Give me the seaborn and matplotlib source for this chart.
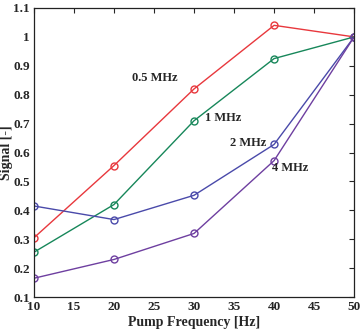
import numpy as np
import pandas as pd
import matplotlib
matplotlib.use("Agg")
import matplotlib.pyplot as plt
import seaborn as sns

freq = [10, 20, 30, 40, 50]
sig_05 = [0.305, 0.555, 0.82, 1.04, 1.0]
sig_1 = [0.255, 0.42, 0.71, 0.925, 1.0]
sig_2 = [0.415, 0.368, 0.452, 0.628, 1.0]
sig_4 = [0.165, 0.23, 0.32, 0.572, 1.0]
series = ["0.5 MHz", "1 MHz", "2 MHz", "4 MHz"]

df = pd.DataFrame({
    "freq": freq * 4,
    "signal": sig_05 + sig_1 + sig_2 + sig_4,
    "series": np.repeat(series, len(freq)),
})

sns.set_style("white")
plt.rcParams["font.family"] = ["Liberation Serif", "DejaVu Serif"]
plt.rcParams["font.weight"] = "bold"

colors = ["#e8383d", "#17875a", "#4a4aaa", "#6e3fa0"]

fig, ax = plt.subplots(figsize=(3.61, 3.33), dpi=100)
sns.lineplot(data=df, x="freq", y="signal", hue="series", palette=colors,
             marker="o", markersize=5, markerfacecolor="none",
             linewidth=1.0, legend=False, ax=ax)
# marker edges match line colour
for line, c in zip(ax.get_lines(), colors):
    line.set_markeredgecolor(c)
    line.set_markeredgewidth(1.0)

# series labels
lab_pos = [(25.1, 0.858), (33.6, 0.72), (36.75, 0.633), (42.0, 0.546)]
for name, (x, y) in zip(series, lab_pos):
    ax.text(x, y, name, ha="center", va="center", fontsize=9, fontweight="bold")

ax.set_xlim(10, 50)
ax.set_ylim(0.1, 1.1)
ax.set_xticks(range(10, 51, 5))
ax.set_yticks(np.round(np.arange(0.1, 1.11, 0.1), 1))
ax.set_yticklabels(["0.1", "0.2", "0.3", "0.4", "0.5", "0.6", "0.7", "0.8", "0.9", "1", "1.1"])
ax.tick_params(direction="in", top=True, right=True, length=3.5, width=0.8,
               labelsize=9.5, pad=3)
for s in ax.spines.values():
    s.set_color("#222222")
    s.set_linewidth(0.9)
ax.set_xlabel("Pump Frequency [Hz]", fontsize=10, fontweight="bold", labelpad=2)
ax.set_ylabel("Signal [-]", fontsize=10, fontweight="bold")
ax.yaxis.set_label_coords(-0.066, 0.5)

fig.subplots_adjust(left=0.094, right=0.981, top=0.976, bottom=0.108)
fig.savefig("out.png", dpi=100)
